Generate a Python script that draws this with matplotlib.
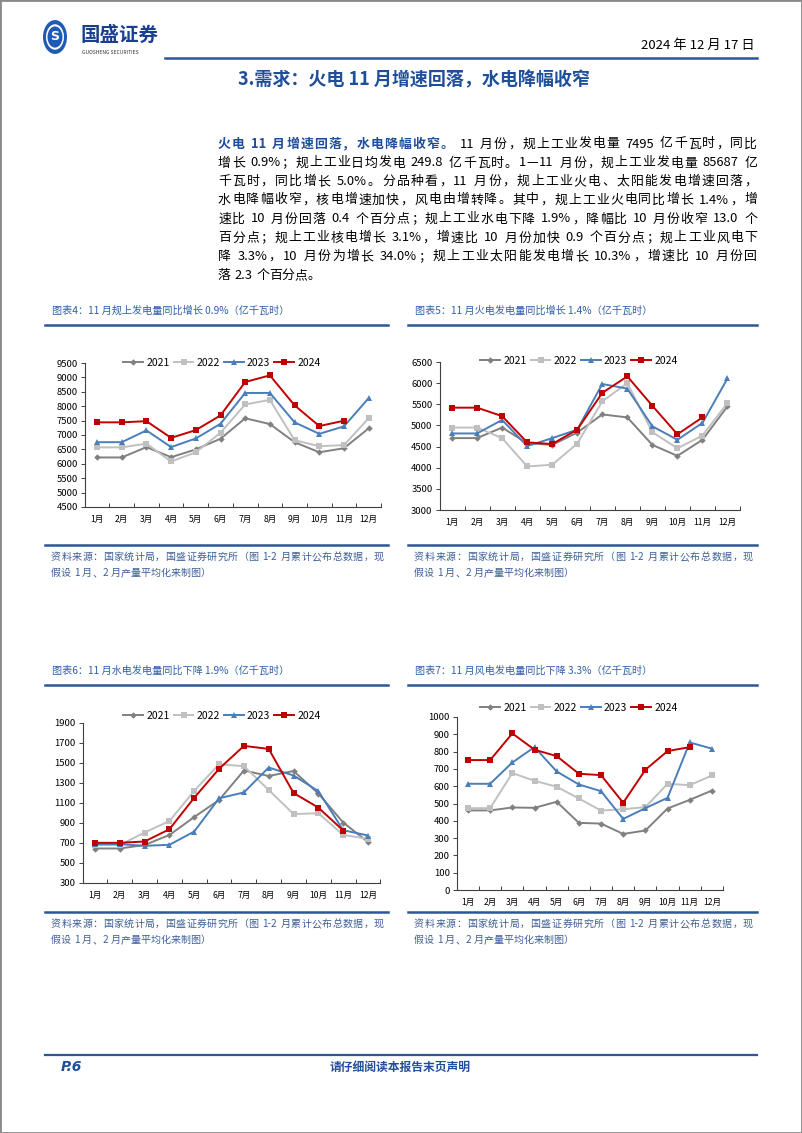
import matplotlib
matplotlib.use('Agg')
import matplotlib.pyplot as plt
import numpy as np
from matplotlib.patches import Circle, Rectangle
from matplotlib.lines import Line2D

plt.rcParams['font.family'] = ['Noto Sans CJK SC', 'DejaVu Sans']

W, H = 802, 1133

# ---- data ----
months = ['1月', '2月', '3月', '4月', '5月', '6月', '7月', '8月', '9月', '10月', '11月', '12月']
years = ['2021', '2022', '2023', '2024']

total_2021 = [6220, 6220, 6580, 6230, 6500, 6870, 7580, 7380, 6750, 6400, 6540, 7230]
total_2022 = [6570, 6570, 6700, 6080, 6400, 7080, 8060, 8220, 6820, 6610, 6650, 7580]
total_2023 = [6750, 6750, 7160, 6580, 6880, 7390, 8460, 8460, 7440, 7040, 7300, 8280]
total_2024 = [7440, 7440, 7480, 6900, 7170, 7680, 8840, 9070, 8030, 7310, 7495]

thermal_2021 = [4700, 4700, 4950, 4580, 4540, 4830, 5260, 5190, 4540, 4280, 4660, 5450]
thermal_2022 = [4950, 4950, 4700, 4030, 4070, 4570, 5570, 6000, 4840, 4460, 4760, 5530]
thermal_2023 = [4810, 4810, 5130, 4510, 4700, 4900, 5980, 5870, 4980, 4660, 5060, 6110]
thermal_2024 = [5420, 5420, 5220, 4600, 4560, 4900, 5770, 6160, 5465, 4790, 5190]

hydro_2021 = [645, 645, 680, 780, 960, 1130, 1425, 1370, 1420, 1195, 905, 710]
hydro_2022 = [680, 680, 805, 920, 1223, 1488, 1468, 1230, 990, 997, 781, 741]
hydro_2023 = [688, 688, 672, 682, 815, 1147, 1206, 1455, 1375, 1219, 828, 775]
hydro_2024 = [702, 702, 715, 838, 1153, 1442, 1671, 1641, 1200, 1054, 825]

wind_2021 = [460, 460, 477, 475, 510, 388, 384, 324, 344, 471, 521, 575]
wind_2022 = [473, 473, 676, 631, 597, 529, 459, 467, 479, 614, 606, 662]
wind_2023 = [614, 614, 737, 826, 685, 610, 571, 411, 473, 533, 853, 817]
wind_2024 = [751, 751, 905, 811, 774, 672, 664, 504, 695, 803, 826]

# ---- texts ----
title = '3.需求：火电 11 月增速回落，水电降幅收窄'
lead = '火电 11 月增速回落，水电降幅收窄。'
para_lines = [
    '11 月份，规上工业发电量 7495 亿千瓦时，同比',
    '增长 0.9%；规上工业日均发电 249.8 亿千瓦时。1—11 月份，规上工业发电量 85687 亿',
    '千瓦时，同比增长 5.0%。分品种看，11 月份，规上工业火电、太阳能发电增速回落，',
    '水电降幅收窄，核电增速加快，风电由增转降。其中，规上工业火电同比增长 1.4%，增',
    '速比 10 月份回落 0.4 个百分点；规上工业水电下降 1.9%，降幅比 10 月份收窄 13.0 个',
    '百分点；规上工业核电增长 3.1%，增速比 10 月份加快 0.9 个百分点；规上工业风电下',
    '降 3.3%，10 月份为增长 34.0%；规上工业太阳能发电增长 10.3%，增速比 10 月份回',
    '落 2.3 个百分点。',
]
captions = ['图表4：11 月规上发电量同比增长 0.9%（亿千瓦时）',
            '图表5：11 月火电发电量同比增长 1.4%（亿千瓦时）',
            '图表6：11 月水电发电量同比下降 1.9%（亿千瓦时）',
            '图表7：11 月风电发电量同比下降 3.3%（亿千瓦时）']
source1 = '资料来源：国家统计局，国盛证券研究所（图 1-2 月累计公布总数据，现'
source2 = '假设 1 月、2 月产量平均化来制图）'

BLUE = '#1f4e9a'
CAP = '#2f5ea8'
SRC = '#3d5f96'

fig = plt.figure(figsize=(W / 100, H / 100), dpi=100)
fig.patch.set_facecolor('white')
r = fig.canvas.get_renderer()


def fx(x):
    return x / W


def fy(y):
    return 1 - y / H


def hline(x0, x1, y, lw=1.6, color='#2b5797'):
    fig.add_artist(Line2D([fx(x0), fx(x1)], [fy(y), fy(y)], color=color, lw=lw,
                          transform=fig.transFigure))


def tokens_of(s):
    out = []
    buf = ''
    for ch in s:
        if ch == ' ':
            if buf:
                out.append(buf)
                buf = ''
            out.append(' ')
        elif ord(ch) < 128:
            buf += ch
        else:
            if buf:
                out.append(buf)
                buf = ''
            out.append(ch)
    if buf:
        out.append(buf)
    return out


def put_line(parts, y, x0, x1, justify=True):
    # parts: list of (string, text kwargs)
    arts = []
    for s, kw in parts:
        for tok in tokens_of(s):
            size_px = kw.get('fontsize', 9) * 100 / 72
            if tok == ' ':
                arts.append((None, size_px * 0.28))
                continue
            t = fig.text(0, fy(y), tok, ha='left', va='center', **kw)
            w = t.get_window_extent(r).width
            arts.append((t, w))
    total = sum(w for _, w in arts)
    gap = 0
    if justify and len(arts) > 1:
        gap = (x1 - x0 - total) / (len(arts) - 1)
    x = x0
    for t, w in arts:
        if t is not None:
            t.set_x(fx(x))
        x += w + gap


# ---- page frame / header ----
fig.add_artist(Rectangle((0, 0), 1, 1, transform=fig.transFigure, fill=False,
                         edgecolor='#8a8a8a', lw=2))
fig.add_artist(Circle((fx(55), fy(37)), 12 / W, transform=fig.transFigure,
                      facecolor='#1d5cb4', edgecolor='none'))
fig.add_artist(Circle((fx(55), fy(37)), 9 / W, transform=fig.transFigure,
                      facecolor='white', edgecolor='none'))
fig.add_artist(Circle((fx(55), fy(37)), 7.5 / W, transform=fig.transFigure,
                      facecolor='#1d5cb4', edgecolor='none'))
fig.text(fx(55), fy(37), 'S', color='white', fontsize=9, fontweight='bold',
         ha='center', va='center', family='DejaVu Sans')
fig.text(fx(81), fy(35), '国盛证券', color='#1b3f8f', fontsize=14, fontweight='bold',
         ha='left', va='center')
fig.text(fx(82), fy(52), 'GUOSHENG SECURITIES', color='#333333', fontsize=3.6,
         ha='left', va='center')
fig.text(fx(755), fy(45), '2024 年 12 月 17 日', color='black', fontsize=9.5,
         ha='right', va='center')
hline(165, 757, 58, lw=1.8, color='#2b5797')

fig.text(fx(414), fy(80), title, color=BLUE, fontsize=13, fontweight='bold',
         ha='center', va='center')

# ---- paragraph ----
line_y = [144, 163, 181.5, 200, 219, 238, 256.5, 275.5]
body = dict(fontsize=9.3, color='black')
put_line([(lead, dict(fontsize=9.3, color=BLUE, fontweight='bold')),
          (' ' + para_lines[0], body)], line_y[0], 218, 757)
for i in range(1, len(para_lines)):
    put_line([(para_lines[i], body)], line_y[i], 218, 757, justify=(i < len(para_lines) - 1))

# ---- chart frames ----
cap_kw = dict(fontsize=7.3, color=CAP)
src_kw = dict(fontsize=7.2, color=SRC)
for (cx0, cx1), cap_y, cap in [((45, 388), 311, captions[0]), ((408, 757), 311, captions[1]),
                               ((45, 388), 671, captions[2]), ((408, 757), 671, captions[3])]:
    fig.text(fx(cx0 + 7), fy(cap_y), cap, ha='left', va='center', **cap_kw)
    hline(cx0, cx1, cap_y + 14, lw=1.8)
for (cx0, cx1), sy in [((45, 388), 545), ((408, 757), 545), ((45, 388), 912), ((408, 757), 912)]:
    hline(cx0, cx1, sy, lw=1.8)
    put_line([(source1, src_kw)], sy + 12, cx0 + 6, cx1 - 4)
    put_line([(source2, src_kw)], sy + 28, cx0 + 6, cx1 - 4, justify=False)

# ---- footer ----
hline(45, 757, 1055, lw=1.6)
fig.text(fx(61), fy(1067), 'P.6', color=BLUE, fontsize=10, fontweight='bold',
         style='italic', ha='left', va='center', family='DejaVu Sans')
fig.text(fx(400), fy(1067), '请仔细阅读本报告末页声明', color=BLUE, fontsize=8.5,
         fontweight='bold', ha='center', va='center')

# ---- charts ----
styles = {
    '2021': dict(color='#808080', marker='D', ms=3.3),
    '2022': dict(color='#c0c0c0', marker='s', ms=4.8),
    '2023': dict(color='#4a7ebb', marker='^', ms=4.8),
    '2024': dict(color='#c00000', marker='s', ms=4.4),
}


def draw_chart(box, series, ylim, ystep, legend_xy):
    left, right, top, bottom = box
    ax = fig.add_axes([fx(left), fy(bottom), (right - left) / W, (bottom - top) / H])
    x = np.arange(12)
    for yr, vals in zip(years, series):
        st = styles[yr]
        ax.plot(x[:len(vals)], vals, color=st['color'], marker=st['marker'],
                markersize=st['ms'], lw=1.4, label=yr, markeredgewidth=0)
    ax.set_xlim(-0.5, 11.5)
    ax.set_ylim(*ylim)
    ax.set_yticks(np.arange(ylim[0], ylim[1] + 1, ystep))
    ax.set_xticks(x)
    ax.set_xticklabels(months, fontsize=6.2)
    ax.set_xticks(np.arange(-0.5, 12, 1), minor=True)
    ax.tick_params(axis='x', which='major', length=0, pad=6)
    ax.tick_params(axis='x', which='minor', length=3, direction='in', width=0.7, color='#404040')
    ax.tick_params(axis='y', length=3, direction='out', labelsize=6.8, pad=2, width=0.7,
                   color='#404040')
    for s in ['top', 'right']:
        ax.spines[s].set_visible(False)
    for s in ['left', 'bottom']:
        ax.spines[s].set_color('#404040')
        ax.spines[s].set_linewidth(0.8)
    ax.set_facecolor('none')
    ax.legend(ncol=4, loc='center', bbox_to_anchor=(fx(legend_xy[0]), fy(legend_xy[1])),
              bbox_transform=fig.transFigure, frameon=False, fontsize=7.5,
              handlelength=1.9, handletextpad=0.3, columnspacing=0.4, borderpad=0)
    return ax


draw_chart((84.7, 381, 363, 507), [total_2021, total_2022, total_2023, total_2024],
           (4500, 9500), 500, (222, 363))
draw_chart((439.5, 740, 362, 510), [thermal_2021, thermal_2022, thermal_2023, thermal_2024],
           (3000, 6500), 500, (579, 361))
draw_chart((82.6, 380.4, 723, 883), [hydro_2021, hydro_2022, hydro_2023, hydro_2024],
           (300, 1900), 200, (222, 716))
draw_chart((456.9, 723, 717, 890), [wind_2021, wind_2022, wind_2023, wind_2024],
           (0, 1000), 100, (579, 708))

fig.savefig('out.png', dpi=100)
